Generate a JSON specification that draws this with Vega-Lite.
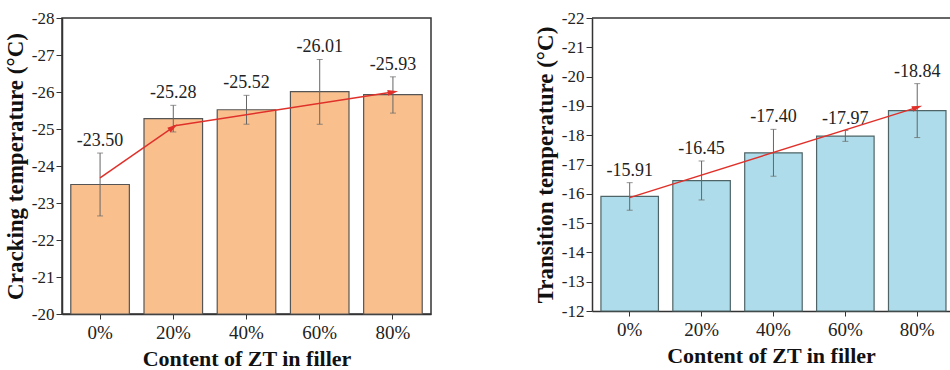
{
  "$schema": "https://vega.github.io/schema/vega-lite/v6.json",
  "background": "white",
  "padding": {"left": 3, "top": 8, "right": 0, "bottom": 0},
  "config": {
    "font": "Liberation Serif",
    "locale": {"number": {"decimal": ".", "thousands": ",", "grouping": [3], "currency": ["$", ""], "minus": "-"}},
    "view": {"stroke": "#333", "strokeWidth": 1.5},
    "axis": {
      "grid": false,
      "domainColor": "#333",
      "domainWidth": 1.5,
      "tickColor": "#333",
      "labelColor": "#222",
      "titleColor": "#111",
      "labelFont": "Liberation Serif",
      "titleFont": "Liberation Serif",
      "titleFontWeight": "bold",
      "labelOverlap": false
    },
    "axisY": {"labelFontSize": 17, "labelPadding": 2, "titlePadding": 4, "titleFontSize": 23},
    "concat": {"spacing": 102}
  },
  "datasets": {
    "crack": [
      {"pct": "0%", "value": -23.50, "lo": -22.65, "hi": -24.35},
      {"pct": "20%", "value": -25.28, "lo": -24.92, "hi": -25.64},
      {"pct": "40%", "value": -25.52, "lo": -25.13, "hi": -25.91},
      {"pct": "60%", "value": -26.01, "lo": -25.13, "hi": -26.88},
      {"pct": "80%", "value": -25.93, "lo": -25.43, "hi": -26.41}
    ],
    "crackTrend": [
      {"seg": "a", "pct": "0%", "y": -23.68},
      {"seg": "a", "pct": "20%", "y": -25.05},
      {"seg": "b", "pct": "20%", "y": -25.08},
      {"seg": "b", "pct": "80%", "y": -26.0}
    ],
    "transition": [
      {"pct": "0%", "value": -15.91, "lo": -15.44, "hi": -16.38},
      {"pct": "20%", "value": -16.45, "lo": -15.79, "hi": -17.12},
      {"pct": "40%", "value": -17.40, "lo": -16.60, "hi": -18.20},
      {"pct": "60%", "value": -17.97, "lo": -17.79, "hi": -18.16},
      {"pct": "80%", "value": -18.84, "lo": -17.92, "hi": -19.76}
    ],
    "transitionTrend": [
      {"seg": "a", "pct": "0%", "y": -15.87},
      {"seg": "a", "pct": "80%", "y": -18.95}
    ]
  },
  "hconcat": [
    {
      "width": 369,
      "height": 296,
      "encoding": {
        "x": {
          "field": "pct",
          "type": "ordinal",
          "scale": {"domain": ["0%", "20%", "40%", "60%", "80%"], "paddingInner": 0.2, "paddingOuter": 0.12},
          "axis": {"title": "Content of ZT in filler", "labelAngle": 0, "labelFontSize": 19, "labelPadding": 4, "tickSize": 5, "titlePadding": 6, "titleFontSize": 22}
        }
      },
      "layer": [
        {
          "data": {"name": "crack"},
          "mark": {"type": "bar", "fill": "#F9C08E", "stroke": "#555555", "strokeWidth": 1.2},
          "encoding": {
            "y": {
              "field": "value",
              "type": "quantitative",
              "scale": {"domain": [-28, -20], "reverse": true, "nice": false, "zero": false},
              "axis": {"title": "Cracking temperature (°C)", "format": "d", "values": [-28, -27.5, -27, -26.5, -26, -25.5, -25, -24.5, -24, -23.5, -23, -22.5, -22, -21.5, -21, -20.5, -20], "labelExpr": "datum.value % 1 === 0 ? datum.label : ''", "labelOverlap": false, "tickSize": {"condition": {"test": "datum.value % 1 === 0", "value": 6}, "value": 3}}
            },
            "y2": {"datum": -20}
          }
        },
        {
          "data": {"name": "crack"},
          "mark": {"type": "rule", "color": "#666666", "strokeWidth": 1},
          "encoding": {
            "y": {"field": "lo", "type": "quantitative", "axis": {"title": "Cracking temperature (°C)", "format": "d", "values": [-28, -27.5, -27, -26.5, -26, -25.5, -25, -24.5, -24, -23.5, -23, -22.5, -22, -21.5, -21, -20.5, -20], "labelExpr": "datum.value % 1 === 0 ? datum.label : ''", "labelOverlap": false, "tickSize": {"condition": {"test": "datum.value % 1 === 0", "value": 6}, "value": 3}}},
            "y2": {"field": "hi"}
          }
        },
        {
          "data": {"name": "crack"},
          "mark": {"type": "tick", "color": "#666666", "thickness": 1, "size": 6},
          "encoding": {"y": {"field": "lo", "type": "quantitative", "axis": {"title": "Cracking temperature (°C)", "format": "d", "values": [-28, -27.5, -27, -26.5, -26, -25.5, -25, -24.5, -24, -23.5, -23, -22.5, -22, -21.5, -21, -20.5, -20], "labelExpr": "datum.value % 1 === 0 ? datum.label : ''", "labelOverlap": false, "tickSize": {"condition": {"test": "datum.value % 1 === 0", "value": 6}, "value": 3}}}}
        },
        {
          "data": {"name": "crack"},
          "mark": {"type": "tick", "color": "#666666", "thickness": 1, "size": 6},
          "encoding": {"y": {"field": "hi", "type": "quantitative", "axis": {"title": "Cracking temperature (°C)", "format": "d", "values": [-28, -27.5, -27, -26.5, -26, -25.5, -25, -24.5, -24, -23.5, -23, -22.5, -22, -21.5, -21, -20.5, -20], "labelExpr": "datum.value % 1 === 0 ? datum.label : ''", "labelOverlap": false, "tickSize": {"condition": {"test": "datum.value % 1 === 0", "value": 6}, "value": 3}}}}
        },
        {
          "data": {"name": "crackTrend"},
          "mark": {"type": "line", "color": "#E0302A", "strokeWidth": 1.5},
          "encoding": {"y": {"field": "y", "type": "quantitative", "axis": {"title": "Cracking temperature (°C)", "format": "d", "values": [-28, -27.5, -27, -26.5, -26, -25.5, -25, -24.5, -24, -23.5, -23, -22.5, -22, -21.5, -21, -20.5, -20], "labelExpr": "datum.value % 1 === 0 ? datum.label : ''", "labelOverlap": false, "tickSize": {"condition": {"test": "datum.value % 1 === 0", "value": 6}, "value": 3}}}, "detail": {"field": "seg"}}
        },
        {
          "data": {"name": "crackTrend"},
          "transform": [{"filter": "datum.seg === 'a' && datum.pct === '20%'"}],
          "mark": {"type": "point", "shape": "M0,-1L0.55,1L-0.55,1Z", "filled": true, "color": "#E0302A", "opacity": 1, "size": 110, "angle": 55},
          "encoding": {"y": {"field": "y", "type": "quantitative", "axis": {"title": "Cracking temperature (°C)", "format": "d", "values": [-28, -27.5, -27, -26.5, -26, -25.5, -25, -24.5, -24, -23.5, -23, -22.5, -22, -21.5, -21, -20.5, -20], "labelExpr": "datum.value % 1 === 0 ? datum.label : ''", "labelOverlap": false, "tickSize": {"condition": {"test": "datum.value % 1 === 0", "value": 6}, "value": 3}}}}
        },
        {
          "data": {"name": "crackTrend"},
          "transform": [{"filter": "datum.seg === 'b' && datum.pct === '80%'"}],
          "mark": {"type": "point", "shape": "M0,-1L0.55,1L-0.55,1Z", "filled": true, "color": "#E0302A", "opacity": 1, "size": 110, "angle": 81},
          "encoding": {"y": {"field": "y", "type": "quantitative", "axis": {"title": "Cracking temperature (°C)", "format": "d", "values": [-28, -27.5, -27, -26.5, -26, -25.5, -25, -24.5, -24, -23.5, -23, -22.5, -22, -21.5, -21, -20.5, -20], "labelExpr": "datum.value % 1 === 0 ? datum.label : ''", "labelOverlap": false, "tickSize": {"condition": {"test": "datum.value % 1 === 0", "value": 6}, "value": 3}}}}
        },
        {
          "data": {"name": "crack"},
          "mark": {"type": "text", "baseline": "bottom", "dy": -3, "fontSize": 18, "color": "#222"},
          "encoding": {
            "y": {"field": "hi", "type": "quantitative", "axis": {"title": "Cracking temperature (°C)", "format": "d", "values": [-28, -27.5, -27, -26.5, -26, -25.5, -25, -24.5, -24, -23.5, -23, -22.5, -22, -21.5, -21, -20.5, -20], "labelExpr": "datum.value % 1 === 0 ? datum.label : ''", "labelOverlap": false, "tickSize": {"condition": {"test": "datum.value % 1 === 0", "value": 6}, "value": 3}}},
            "text": {"field": "value", "type": "quantitative", "format": ".2f"}
          }
        }
      ]
    },
    {
      "width": 358,
      "height": 293,
      "view": {"stroke": null},
      "encoding": {
        "x": {
          "field": "pct",
          "type": "ordinal",
          "scale": {"domain": ["0%", "20%", "40%", "60%", "80%"], "paddingInner": 0.2, "paddingOuter": 0.09, "align": 0.69},
          "axis": {"title": "Content of ZT in filler", "labelAngle": 0, "labelFontSize": 19, "labelPadding": 4, "tickSize": 5, "titlePadding": 6, "titleFontSize": 22}
        }
      },
      "layer": [
        {
          "data": {"name": "transition"},
          "mark": {"type": "bar", "fill": "#AEDCEA", "stroke": "#4F6466", "strokeWidth": 1.2},
          "encoding": {
            "y": {
              "field": "value",
              "type": "quantitative",
              "scale": {"domain": [-22, -12], "reverse": true, "nice": false, "zero": false},
              "axis": {"title": "Transition temperature (°C)", "format": "d", "values": [-22, -21.5, -21, -20.5, -20, -19.5, -19, -18.5, -18, -17.5, -17, -16.5, -16, -15.5, -15, -14.5, -14, -13.5, -13, -12.5, -12], "labelExpr": "datum.value % 1 === 0 ? datum.label : ''", "labelOverlap": false, "tickSize": {"condition": {"test": "datum.value % 1 === 0", "value": 6}, "value": 3}}
            },
            "y2": {"datum": -12}
          }
        },
        {
          "data": {"name": "transition"},
          "mark": {"type": "rule", "color": "#333", "strokeWidth": 1.5},
          "transform": [{"filter": "datum.pct === '0%'"}],
          "encoding": {
            "x": {"value": 0},
            "x2": {"value": 358},
            "y": {"datum": -22, "type": "quantitative", "axis": {"title": "Transition temperature (°C)", "format": "d", "values": [-22, -21.5, -21, -20.5, -20, -19.5, -19, -18.5, -18, -17.5, -17, -16.5, -16, -15.5, -15, -14.5, -14, -13.5, -13, -12.5, -12], "labelExpr": "datum.value % 1 === 0 ? datum.label : ''", "labelOverlap": false, "tickSize": {"condition": {"test": "datum.value % 1 === 0", "value": 6}, "value": 3}}}
          }
        },
        {
          "data": {"name": "transition"},
          "mark": {"type": "rule", "color": "#666666", "strokeWidth": 1},
          "encoding": {
            "y": {"field": "lo", "type": "quantitative", "axis": {"title": "Transition temperature (°C)", "format": "d", "values": [-22, -21.5, -21, -20.5, -20, -19.5, -19, -18.5, -18, -17.5, -17, -16.5, -16, -15.5, -15, -14.5, -14, -13.5, -13, -12.5, -12], "labelExpr": "datum.value % 1 === 0 ? datum.label : ''", "labelOverlap": false, "tickSize": {"condition": {"test": "datum.value % 1 === 0", "value": 6}, "value": 3}}},
            "y2": {"field": "hi"}
          }
        },
        {
          "data": {"name": "transition"},
          "mark": {"type": "tick", "color": "#666666", "thickness": 1, "size": 6},
          "encoding": {"y": {"field": "lo", "type": "quantitative", "axis": {"title": "Transition temperature (°C)", "format": "d", "values": [-22, -21.5, -21, -20.5, -20, -19.5, -19, -18.5, -18, -17.5, -17, -16.5, -16, -15.5, -15, -14.5, -14, -13.5, -13, -12.5, -12], "labelExpr": "datum.value % 1 === 0 ? datum.label : ''", "labelOverlap": false, "tickSize": {"condition": {"test": "datum.value % 1 === 0", "value": 6}, "value": 3}}}}
        },
        {
          "data": {"name": "transition"},
          "mark": {"type": "tick", "color": "#666666", "thickness": 1, "size": 6},
          "encoding": {"y": {"field": "hi", "type": "quantitative", "axis": {"title": "Transition temperature (°C)", "format": "d", "values": [-22, -21.5, -21, -20.5, -20, -19.5, -19, -18.5, -18, -17.5, -17, -16.5, -16, -15.5, -15, -14.5, -14, -13.5, -13, -12.5, -12], "labelExpr": "datum.value % 1 === 0 ? datum.label : ''", "labelOverlap": false, "tickSize": {"condition": {"test": "datum.value % 1 === 0", "value": 6}, "value": 3}}}}
        },
        {
          "data": {"name": "transitionTrend"},
          "mark": {"type": "line", "color": "#E0302A", "strokeWidth": 1.5},
          "encoding": {"y": {"field": "y", "type": "quantitative", "axis": {"title": "Transition temperature (°C)", "format": "d", "values": [-22, -21.5, -21, -20.5, -20, -19.5, -19, -18.5, -18, -17.5, -17, -16.5, -16, -15.5, -15, -14.5, -14, -13.5, -13, -12.5, -12], "labelExpr": "datum.value % 1 === 0 ? datum.label : ''", "labelOverlap": false, "tickSize": {"condition": {"test": "datum.value % 1 === 0", "value": 6}, "value": 3}}}, "detail": {"field": "seg"}}
        },
        {
          "data": {"name": "transitionTrend"},
          "transform": [{"filter": "datum.pct === '80%'"}],
          "mark": {"type": "point", "shape": "M0,-1L0.55,1L-0.55,1Z", "filled": true, "color": "#E0302A", "opacity": 1, "size": 110, "angle": 72},
          "encoding": {"y": {"field": "y", "type": "quantitative", "axis": {"title": "Transition temperature (°C)", "format": "d", "values": [-22, -21.5, -21, -20.5, -20, -19.5, -19, -18.5, -18, -17.5, -17, -16.5, -16, -15.5, -15, -14.5, -14, -13.5, -13, -12.5, -12], "labelExpr": "datum.value % 1 === 0 ? datum.label : ''", "labelOverlap": false, "tickSize": {"condition": {"test": "datum.value % 1 === 0", "value": 6}, "value": 3}}}}
        },
        {
          "data": {"name": "transition"},
          "mark": {"type": "text", "baseline": "bottom", "dy": -3, "fontSize": 18, "color": "#222"},
          "encoding": {
            "y": {"field": "hi", "type": "quantitative", "axis": {"title": "Transition temperature (°C)", "format": "d", "values": [-22, -21.5, -21, -20.5, -20, -19.5, -19, -18.5, -18, -17.5, -17, -16.5, -16, -15.5, -15, -14.5, -14, -13.5, -13, -12.5, -12], "labelExpr": "datum.value % 1 === 0 ? datum.label : ''", "labelOverlap": false, "tickSize": {"condition": {"test": "datum.value % 1 === 0", "value": 6}, "value": 3}}},
            "text": {"field": "value", "type": "quantitative", "format": ".2f"}
          }
        }
      ]
    }
  ]
}
